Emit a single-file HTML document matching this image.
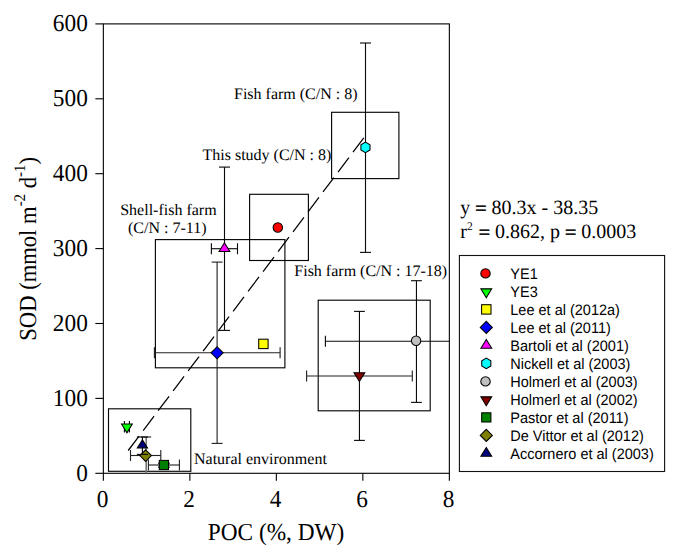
<!DOCTYPE html>
<html><head><meta charset="utf-8"><title>chart</title>
<style>
html,body{margin:0;padding:0;background:#fff;}
svg{display:block;}
text{font-family:"Liberation Serif",serif;fill:#000;text-rendering:geometricPrecision;}
text.lt{font-family:"Liberation Sans",sans-serif;font-size:14.5px;}
.an{font-size:16px;}
.tk{font-size:23.3px;}
.ax{font-size:23.3px;}
.eq{font-size:20px;}
.ay{font-size:22.6px;}
.eqs{stroke:#000;stroke-width:0.55px;}
</style></head><body>
<svg width="686" height="553" viewBox="0 0 686 553">
<rect x="0" y="0" width="686" height="553" fill="#fff"/>
<g stroke="#000" stroke-width="1.1" fill="none">
<rect x="103.35" y="23.90" width="346.00" height="449.40"/>
<line x1="103.35" y1="473.30" x2="103.35" y2="480.80"/>
<line x1="189.85" y1="473.30" x2="189.85" y2="480.80"/>
<line x1="276.35" y1="473.30" x2="276.35" y2="480.80"/>
<line x1="362.85" y1="473.30" x2="362.85" y2="480.80"/>
<line x1="449.35" y1="473.30" x2="449.35" y2="480.80"/>
<line x1="103.35" y1="473.30" x2="95.35" y2="473.30"/>
<line x1="103.35" y1="398.40" x2="95.35" y2="398.40"/>
<line x1="103.35" y1="323.50" x2="95.35" y2="323.50"/>
<line x1="103.35" y1="248.60" x2="95.35" y2="248.60"/>
<line x1="103.35" y1="173.70" x2="95.35" y2="173.70"/>
<line x1="103.35" y1="98.80" x2="95.35" y2="98.80"/>
<line x1="103.35" y1="23.90" x2="95.35" y2="23.90"/>
</g>
<text class="tk" transform="translate(102.55,506.80) scale(1,1.045)" text-anchor="middle">0</text>
<text class="tk" transform="translate(189.05,506.80) scale(1,1.045)" text-anchor="middle">2</text>
<text class="tk" transform="translate(275.55,506.80) scale(1,1.045)" text-anchor="middle">4</text>
<text class="tk" transform="translate(362.05,506.80) scale(1,1.045)" text-anchor="middle">6</text>
<text class="tk" transform="translate(448.55,506.80) scale(1,1.045)" text-anchor="middle">8</text>
<text class="tk" transform="translate(87.80,480.50) scale(1,1.045)" text-anchor="end">0</text>
<text class="tk" transform="translate(87.80,405.60) scale(1,1.045)" text-anchor="end">100</text>
<text class="tk" transform="translate(87.80,330.70) scale(1,1.045)" text-anchor="end">200</text>
<text class="tk" transform="translate(87.80,255.80) scale(1,1.045)" text-anchor="end">300</text>
<text class="tk" transform="translate(87.80,180.90) scale(1,1.045)" text-anchor="end">400</text>
<text class="tk" transform="translate(87.80,106.00) scale(1,1.045)" text-anchor="end">500</text>
<text class="tk" transform="translate(87.80,31.10) scale(1,1.045)" text-anchor="end">600</text>
<text class="ax" transform="translate(207.80,539.60) scale(1,1.045)" text-anchor="start">POC (%, DW)</text>
<text class="ay" transform="translate(36.20,340.70) rotate(-90) scale(1,1.08)" text-anchor="start">SOD (mmol m<tspan dy="-10.5" font-size="15px">-2</tspan><tspan dy="10.5"> d</tspan><tspan dy="-10.5" font-size="15px">-1</tspan><tspan dy="10.5">)</tspan></text>
<rect x="108.50" y="408.80" width="82.30" height="62.50" fill="none" stroke="#080808" stroke-width="1.15"/>
<rect x="155.40" y="239.60" width="129.50" height="128.20" fill="none" stroke="#080808" stroke-width="1.15"/>
<rect x="249.60" y="194.30" width="58.80" height="66.20" fill="none" stroke="#080808" stroke-width="1.15"/>
<rect x="331.60" y="112.30" width="67.30" height="66.30" fill="none" stroke="#080808" stroke-width="1.15"/>
<rect x="318.20" y="300.20" width="112.00" height="110.60" fill="none" stroke="#080808" stroke-width="1.15"/>
<line x1="128.20" y1="450.50" x2="363.80" y2="137.90" stroke="#000" stroke-width="1.25" stroke-dasharray="18.1 6.8"/>
<circle cx="277.80" cy="227.50" r="4.7" fill="#ff0000" stroke="#000" stroke-width="1.05"/>
<line x1="124.40" y1="426.80" x2="129.40" y2="426.80" stroke="#000" stroke-width="1.1" />
<line x1="124.40" y1="421.10" x2="124.40" y2="432.50" stroke="#000" stroke-width="1.1" />
<line x1="129.40" y1="421.10" x2="129.40" y2="432.50" stroke="#000" stroke-width="1.1" />
<polygon points="126.90,432.87 132.30,424.07 121.50,424.07" fill="#00ff00" stroke="#000" stroke-width="1.05" stroke-linejoin="miter"/>
<rect x="258.70" y="339.20" width="9.4" height="9.4" fill="#ffff00" stroke="#000" stroke-width="1.05"/>
<line x1="217.10" y1="262.10" x2="217.10" y2="443.40" stroke="#222" stroke-width="1.12" />
<line x1="211.60" y1="262.10" x2="222.60" y2="262.10" stroke="#222" stroke-width="1.12" />
<line x1="211.60" y1="443.40" x2="222.60" y2="443.40" stroke="#222" stroke-width="1.12" />
<line x1="154.40" y1="352.70" x2="280.10" y2="352.70" stroke="#222" stroke-width="1.12" />
<line x1="154.40" y1="347.15" x2="154.40" y2="358.25" stroke="#222" stroke-width="1.12" />
<line x1="280.10" y1="347.15" x2="280.10" y2="358.25" stroke="#222" stroke-width="1.12" />
<polygon points="217.10,346.75 223.15,352.80 217.10,358.85 211.05,352.80" fill="#0000ff" stroke="#000" stroke-width="1.05" stroke-linejoin="miter"/>
<line x1="224.50" y1="167.10" x2="224.50" y2="330.40" stroke="#0a0a0a" stroke-width="1.12" />
<line x1="219.00" y1="167.10" x2="230.00" y2="167.10" stroke="#0a0a0a" stroke-width="1.12" />
<line x1="219.00" y1="330.40" x2="230.00" y2="330.40" stroke="#0a0a0a" stroke-width="1.12" />
<line x1="211.40" y1="248.70" x2="237.50" y2="248.70" stroke="#0a0a0a" stroke-width="1.12" />
<line x1="211.40" y1="243.20" x2="211.40" y2="254.20" stroke="#0a0a0a" stroke-width="1.12" />
<line x1="237.50" y1="243.20" x2="237.50" y2="254.20" stroke="#0a0a0a" stroke-width="1.12" />
<polygon points="224.45,242.73 229.85,251.53 219.05,251.53" fill="#ff00ff" stroke="#000" stroke-width="1.05" stroke-linejoin="miter"/>
<line x1="365.50" y1="43.00" x2="365.50" y2="252.40" stroke="#0a0a0a" stroke-width="1.12" />
<line x1="360.00" y1="43.00" x2="371.00" y2="43.00" stroke="#0a0a0a" stroke-width="1.12" />
<line x1="360.00" y1="252.40" x2="371.00" y2="252.40" stroke="#0a0a0a" stroke-width="1.12" />
<polygon points="370.00,150.03 365.45,152.65 360.90,150.03 360.90,144.78 365.45,142.15 370.00,144.78" fill="#00ffff" stroke="#000" stroke-width="1.05" stroke-linejoin="miter"/>
<line x1="416.45" y1="280.70" x2="416.45" y2="402.40" stroke="#0a0a0a" stroke-width="1.12" />
<line x1="411.05" y1="280.70" x2="421.85" y2="280.70" stroke="#0a0a0a" stroke-width="1.12" />
<line x1="411.05" y1="402.40" x2="421.85" y2="402.40" stroke="#0a0a0a" stroke-width="1.12" />
<line x1="325.40" y1="341.20" x2="449.35" y2="341.20" stroke="#0a0a0a" stroke-width="1.12" />
<line x1="325.40" y1="335.65" x2="325.40" y2="346.75" stroke="#0a0a0a" stroke-width="1.12" />
<circle cx="416.10" cy="340.80" r="4.7" fill="#c0c0c0" stroke="#000" stroke-width="1.05"/>
<line x1="359.45" y1="311.40" x2="359.45" y2="440.40" stroke="#0a0a0a" stroke-width="1.12" />
<line x1="354.05" y1="311.40" x2="364.85" y2="311.40" stroke="#0a0a0a" stroke-width="1.12" />
<line x1="354.05" y1="440.40" x2="364.85" y2="440.40" stroke="#0a0a0a" stroke-width="1.12" />
<line x1="306.60" y1="376.00" x2="412.30" y2="376.00" stroke="#222" stroke-width="1.12" />
<line x1="306.60" y1="370.50" x2="306.60" y2="381.50" stroke="#222" stroke-width="1.12" />
<line x1="412.30" y1="370.50" x2="412.30" y2="381.50" stroke="#222" stroke-width="1.12" />
<polygon points="359.40,381.47 364.80,372.67 354.00,372.67" fill="#800000" stroke="#000" stroke-width="1.05" stroke-linejoin="miter"/>
<line x1="148.40" y1="465.00" x2="179.40" y2="465.00" stroke="#222" stroke-width="1.12" />
<line x1="148.40" y1="459.45" x2="148.40" y2="470.55" stroke="#222" stroke-width="1.12" />
<line x1="179.40" y1="459.45" x2="179.40" y2="470.55" stroke="#222" stroke-width="1.12" />
<line x1="163.90" y1="463.20" x2="163.90" y2="467.20" stroke="#0a0a0a" stroke-width="1.12" />
<line x1="158.00" y1="463.20" x2="169.80" y2="463.20" stroke="#0a0a0a" stroke-width="1.12" />
<line x1="158.00" y1="467.20" x2="169.80" y2="467.20" stroke="#0a0a0a" stroke-width="1.12" />
<rect x="159.30" y="460.40" width="9.2" height="9.2" fill="#008000" stroke="#000" stroke-width="1.05"/>
<line x1="146.20" y1="437.00" x2="146.20" y2="473.30" stroke="#777" stroke-width="1.6" />
<line x1="141.00" y1="437.00" x2="151.20" y2="437.00" stroke="#0a0a0a" stroke-width="1" />
<line x1="130.50" y1="455.50" x2="160.80" y2="455.50" stroke="#222" stroke-width="1.12" />
<line x1="130.50" y1="449.95" x2="130.50" y2="461.05" stroke="#222" stroke-width="1.12" />
<line x1="160.80" y1="449.95" x2="160.80" y2="461.05" stroke="#222" stroke-width="1.12" />
<polygon points="145.65,449.80 151.45,455.60 145.65,461.40 139.85,455.60" fill="#808000" stroke="#000" stroke-width="1.05" stroke-linejoin="miter"/>
<line x1="142.40" y1="437.00" x2="142.40" y2="454.40" stroke="#0a0a0a" stroke-width="1.12" />
<line x1="136.85" y1="437.00" x2="147.95" y2="437.00" stroke="#0a0a0a" stroke-width="1.12" />
<line x1="136.85" y1="454.40" x2="147.95" y2="454.40" stroke="#0a0a0a" stroke-width="1.12" />
<polygon points="142.40,439.87 147.50,447.87 137.30,447.87" fill="#000080" stroke="#000" stroke-width="1.05" stroke-linejoin="miter"/>
<text class="an" transform="translate(234.00,98.70) scale(1,1.0)" text-anchor="start">Fish farm (C/N : 8)</text>
<text class="an" transform="translate(202.50,159.70) scale(1,1.0)" text-anchor="start">This study (C/N : 8)</text>
<text class="an" transform="translate(120.20,214.80) scale(1,1.0)" text-anchor="start">Shell-fish farm</text>
<text class="an" transform="translate(128.00,233.00) scale(1,1.0)" text-anchor="start">(C/N : 7-11)</text>
<text class="an" transform="translate(294.30,276.40) scale(1,1.0)" text-anchor="start">Fish farm (C/N : 17-18)</text>
<text class="an" transform="translate(194.00,463.70) scale(1,1.0)" text-anchor="start">Natural environment</text>
<text class="eq" transform="translate(460.30,214.10) scale(1,1.015)" text-anchor="start">y <tspan class="eqs" dy="0.9">=</tspan><tspan dy="-0.9"> 80.3x - 38.35</tspan></text>
<text class="eq" transform="translate(460.30,238.30) scale(1,1.015)" text-anchor="start">r<tspan dy="-8.6" font-size="11.5px">2</tspan><tspan dy="8.6" dx="1"> </tspan><tspan class="eqs" dy="0.9">=</tspan><tspan dy="-0.9"> 0.862, p </tspan><tspan class="eqs" dy="0.9">=</tspan><tspan dy="-0.9"> 0.0003</tspan></text>
<rect x="459.4" y="255.5" width="205.2" height="216.0" fill="#fff" stroke="#111" stroke-width="1.1"/>
<g class="lg">
<circle cx="485.50" cy="273.40" r="4.7" fill="#ff0000" stroke="#000" stroke-width="1.05"/>
<text class="lt" transform="translate(510.30,278.50) scale(1,1.05)" text-anchor="start">YE1</text>
<polygon points="486.30,297.67 491.70,288.87 480.90,288.87" fill="#00ff00" stroke="#000" stroke-width="1.05" stroke-linejoin="miter"/>
<text class="lt" transform="translate(510.30,296.50) scale(1,1.05)" text-anchor="start">YE3</text>
<rect x="481.60" y="304.70" width="9.4" height="9.4" fill="#ffff00" stroke="#000" stroke-width="1.05"/>
<text class="lt" transform="translate(510.30,314.50) scale(1,1.05)" text-anchor="start">Lee et al (2012a)</text>
<polygon points="486.30,321.35 492.35,327.40 486.30,333.45 480.25,327.40" fill="#0000ff" stroke="#000" stroke-width="1.05" stroke-linejoin="miter"/>
<text class="lt" transform="translate(510.30,332.50) scale(1,1.05)" text-anchor="start">Lee et al (2011)</text>
<polygon points="486.30,339.43 491.70,348.23 480.90,348.23" fill="#ff00ff" stroke="#000" stroke-width="1.05" stroke-linejoin="miter"/>
<text class="lt" transform="translate(510.30,350.50) scale(1,1.05)" text-anchor="start">Bartoli et al (2001)</text>
<polygon points="490.85,366.02 486.30,368.65 481.75,366.02 481.75,360.77 486.30,358.15 490.85,360.77" fill="#00ffff" stroke="#000" stroke-width="1.05" stroke-linejoin="miter"/>
<text class="lt" transform="translate(510.30,368.50) scale(1,1.05)" text-anchor="start">Nickell et al (2003)</text>
<circle cx="485.50" cy="381.40" r="4.7" fill="#c0c0c0" stroke="#000" stroke-width="1.05"/>
<text class="lt" transform="translate(510.30,386.50) scale(1,1.05)" text-anchor="start">Holmerl et al (2003)</text>
<polygon points="486.30,405.67 491.70,396.87 480.90,396.87" fill="#800000" stroke="#000" stroke-width="1.05" stroke-linejoin="miter"/>
<text class="lt" transform="translate(510.30,404.50) scale(1,1.05)" text-anchor="start">Holmerl et al (2002)</text>
<rect x="481.70" y="412.80" width="9.2" height="9.2" fill="#008000" stroke="#000" stroke-width="1.05"/>
<text class="lt" transform="translate(510.30,422.50) scale(1,1.05)" text-anchor="start">Pastor et al (2011)</text>
<polygon points="486.30,429.35 492.35,435.40 486.30,441.45 480.25,435.40" fill="#808000" stroke="#000" stroke-width="1.05" stroke-linejoin="miter"/>
<text class="lt" transform="translate(510.30,440.50) scale(1,1.05)" text-anchor="start">De Vittor et al (2012)</text>
<polygon points="486.30,447.43 491.70,456.23 480.90,456.23" fill="#000080" stroke="#000" stroke-width="1.05" stroke-linejoin="miter"/>
<text class="lt" transform="translate(510.30,458.50) scale(1,1.05)" text-anchor="start">Accornero et al (2003)</text>
</g>
</svg></body></html>
